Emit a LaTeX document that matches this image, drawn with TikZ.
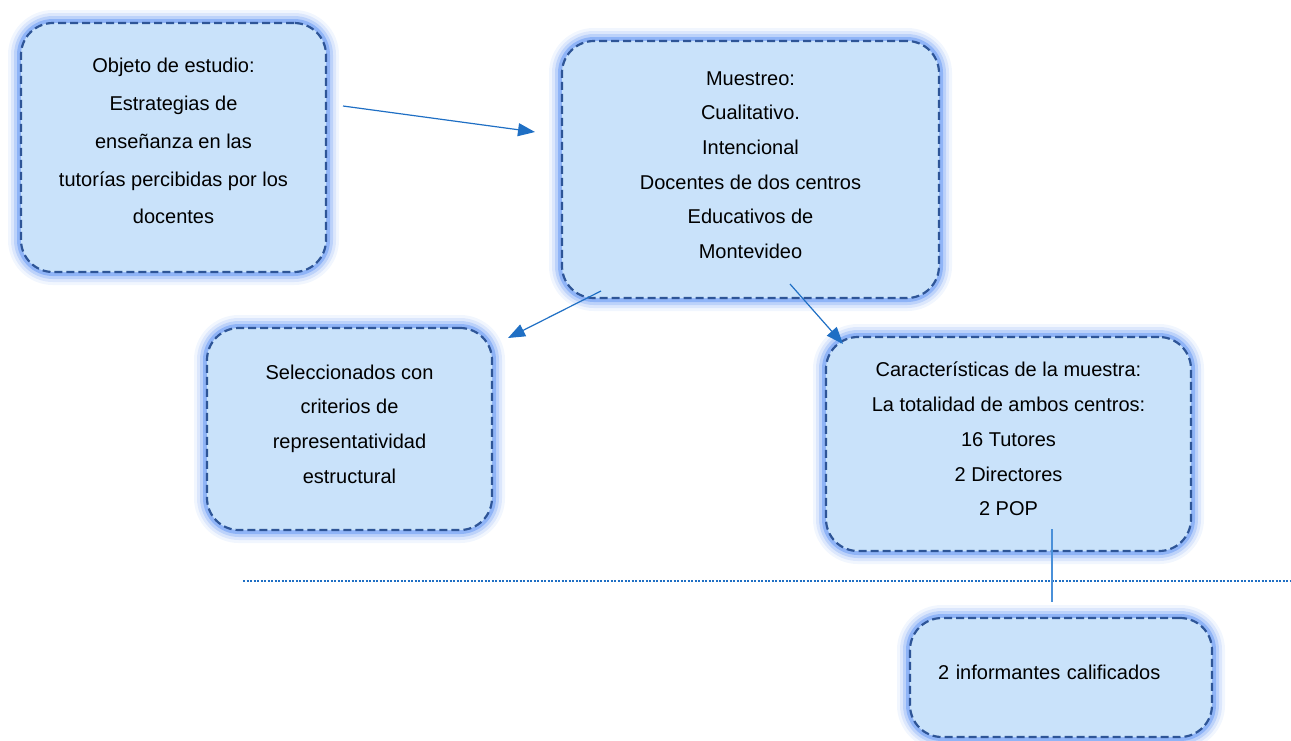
\documentclass[tikz,border=0pt]{standalone}
\usepackage{fontspec}
\setmainfont{Liberation Sans}
\usetikzlibrary{arrows.meta}
\definecolor{boxfill}{HTML}{C9E2FA}
\definecolor{boxedge}{HTML}{2E5597}
\definecolor{glowc}{HTML}{4C86F2}
\definecolor{arrowc}{HTML}{1F6FC4}
\definecolor{linec}{HTML}{4A90D9}
\newcommand{\dn}[1]{\rule[-#1pt]{0pt}{0pt}}
\tikzset{
  glowbox/.style={rounded corners=32, fill=boxfill, draw=boxedge, line width=2.2,
    dash pattern=on 8 off 4,
    preaction={draw=glowc, line width=26, draw opacity=0.08, solid},
    preaction={draw=glowc, line width=20, draw opacity=0.13, solid},
    preaction={draw=glowc, line width=14, draw opacity=0.22, solid},
    preaction={draw=glowc, line width=8, draw opacity=0.4, solid},
    align=center, inner sep=0pt,
    font=\fontsize{20}{34.7}\selectfont},
  conn/.style={draw=arrowc, line width=1.2, -{Triangle[length=17,width=13]}},
  plain/.style={draw=linec, line width=1.4},
  sep/.style={draw=arrowc, line width=2.2, dash pattern=on 2 off 1.5}
}
\begin{document}
\begin{tikzpicture}[x=1pt,y=-1pt]
\useasboundingbox (0,0) rectangle (1291,740);
\node[glowbox, minimum width=305, minimum height=249, font=\fontsize{20}{37.8}\selectfont] (b1) at (173.5,147.5)
  {Objeto de estudio:\\Estrategias de\\enseñanza en las\\tutorías percibidas por los\\docentes\dn{13}};
\node[glowbox, minimum width=377, minimum height=257] (b2) at (750.5,169.5)
  {Muestreo:\\Cualitativo.\\Intencional\\Docentes de dos centros\\Educativos de\\Montevideo\dn{9}};
\node[glowbox, minimum width=285, minimum height=202] (b3) at (349.5,429)
  {Seleccionados con\\criterios de\\representatividad\\estructural\dn{10}};
\node[glowbox, minimum width=365, minimum height=214] (b4) at (1008.5,444)
  {Características de la muestra:\\La totalidad de ambos centros:\\16 Tutores\\2 Directores\\2 POP\dn{10}};
\node[glowbox, minimum width=302, minimum height=119, inner xsep=28, text width=246, align=left] (b5) at (1061,677.5)
  {2 informantes calificados\dn{10}};
\coordinate (a1s) at (343,106);
\coordinate (a1e) at (535,132);
\coordinate (a2s) at (601,291);
\coordinate (a2e) at (508,338);
\coordinate (a3s) at (790,284);
\coordinate (a3e) at (843,344);
\coordinate (vs) at (1052,529);
\coordinate (ve) at (1052,602);
\coordinate (ds) at (243,581);
\coordinate (de) at (1291,581);
\draw[sep] (ds) -- (de);
\draw[conn] (a1s) -- (a1e);
\draw[conn] (a2s) -- (a2e);
\draw[conn] (a3s) -- (a3e);
\draw[plain] (vs) -- (ve);
\end{tikzpicture}
\end{document}
